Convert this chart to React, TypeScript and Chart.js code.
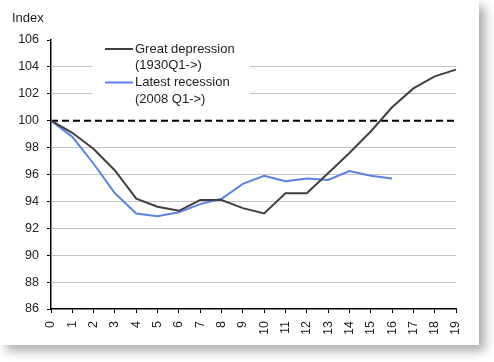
import React, { useEffect, useRef } from 'react';
import { Chart, registerables } from 'chart.js';

Chart.register(...registerables);

// ---- data ----
const categories = ['0', '1', '2', '3', '4', '5', '6', '7', '8', '9', '10', '11', '12', '13', '14', '15', '16', '17', '18', '19'];
const greatDepression = [100, 99.1, 97.9, 96.3, 94.2, 93.6, 93.3, 94.1, 94.1, 93.5, 93.1, 94.6, 94.6, 96.1, 97.6, 99.2, 101.0, 102.4, 103.3, 103.8];
const latestRecession = [100, 98.8, 96.8, 94.6, 93.1, 92.9, 93.2, 93.8, 94.2, 95.3, 95.9, 95.5, 95.7, 95.6, 96.25, 95.9, 95.7];
const seriesNames = ['Great depression', 'Latest recession'];
const seriesSubtitles = ['(1930Q1->)', '(2008 Q1->)'];
const seriesColors = ['#404040', '#5a82e6'];
const yMin = 86;
const yMax = 106;
const yStep = 2;
const referenceLevel = 100;
const axisTitle = 'Index';

const FONT = '"Liberation Sans", Arial, sans-serif';
const TEXT = '#222222';

export default function App() {
  const ref = useRef<HTMLCanvasElement>(null);

  useEffect(() => {
    const canvas = ref.current;
    if (!canvas) return;

    const overlay = {
      id: 'overlay',
      beforeDatasetsDraw(chart: any) {
        const { ctx, chartArea, scales } = chart;
        const y = scales.y;
        ctx.save();
        // legend box background
        const bx = chartArea.left + 41;
        const by = chartArea.top + 2;
        ctx.fillStyle = '#ffffff';
        ctx.fillRect(bx, by, 158, 68);
        // reference dashed line
        const py = y.getPixelForValue(referenceLevel);
        ctx.setLineDash([7, 4]);
        ctx.lineWidth = 2;
        ctx.strokeStyle = '#000000';
        ctx.beginPath();
        ctx.moveTo(chartArea.left, py);
        ctx.lineTo(chartArea.right, py);
        ctx.stroke();
        ctx.setLineDash([]);
        // legend entries
        ctx.font = `13px ${FONT}`;
        ctx.textBaseline = 'middle';
        ctx.textAlign = 'left';
        const rows = [9, 42.5];
        seriesNames.forEach((name, i) => {
          const ry = chartArea.top + rows[i];
          ctx.strokeStyle = seriesColors[i];
          ctx.lineWidth = 2;
          ctx.beginPath();
          ctx.moveTo(chartArea.left + 54, ry);
          ctx.lineTo(chartArea.left + 82, ry);
          ctx.stroke();
          ctx.fillStyle = TEXT;
          ctx.fillText(name, chartArea.left + 84, ry);
          ctx.fillText(seriesSubtitles[i], chartArea.left + 84, ry + 16.5);
        });
        ctx.restore();
      },
      afterDraw(chart: any) {
        const { ctx } = chart;
        ctx.save();
        ctx.font = `13px ${FONT}`;
        ctx.fillStyle = TEXT;
        ctx.textBaseline = 'middle';
        ctx.textAlign = 'left';
        ctx.fillText(axisTitle, 12, 18);
        ctx.restore();
      },
    };

    const chart = new Chart(canvas, {
      type: 'line',
      data: {
        labels: categories,
        datasets: [
          {
            label: seriesNames[0],
            data: greatDepression,
            borderColor: seriesColors[0],
            borderWidth: 2,
            pointRadius: 0,
            tension: 0,
            fill: false,
          },
          {
            label: seriesNames[1],
            data: latestRecession,
            borderColor: seriesColors[1],
            borderWidth: 2,
            pointRadius: 0,
            tension: 0,
            fill: false,
          },
        ],
      },
      options: {
        responsive: false,
        animation: false,
        events: [],
        layout: { padding: { top: 40, right: 22, left: 0, bottom: 0 } },
        plugins: {
          legend: { display: false },
          tooltip: { enabled: false },
          title: { display: false },
        },
        scales: {
          x: {
            type: 'category',
            offset: false,
            ticks: {
              minRotation: 90,
              maxRotation: 90,
              autoSkip: false,
              color: TEXT,
              padding: 8,
              font: { family: FONT, size: 12.5 },
            },
            grid: {
              drawOnChartArea: false,
              tickColor: '#000000',
              tickLength: 4,
            },
            border: { color: '#000000', width: 1.5 },
            afterFit: (s: any) => {
              s.height = 36;
            },
          },
          y: {
            min: yMin,
            max: yMax,
            ticks: {
              stepSize: yStep,
              color: TEXT,
              padding: 8,
              font: { family: FONT, size: 12.5 },
            },
            grid: {
              color: (c: any) =>
                c.tick && (c.tick.value === yMax || c.tick.value === yMin || c.tick.value === referenceLevel)
                  ? 'rgba(0,0,0,0)'
                  : '#c4c4c4',
              lineWidth: 1,
              tickColor: '#000000',
              tickLength: 4,
            },
            border: { color: '#000000', width: 1.5 },
            afterFit: (s: any) => {
              s.width = 51;
            },
          },
        },
      },
      plugins: [overlay],
    });

    return () => chart.destroy();
  }, []);

  return (
    <div
      style={{
        position: 'absolute',
        left: 0,
        top: 0,
        width: 479,
        height: 345,
        background: '#ffffff',
        boxShadow: '6px 6px 10px rgba(0,0,0,0.33)',
      }}
    >
      <canvas ref={ref} width={479} height={345} style={{ display: 'block' }} />
    </div>
  );
}
